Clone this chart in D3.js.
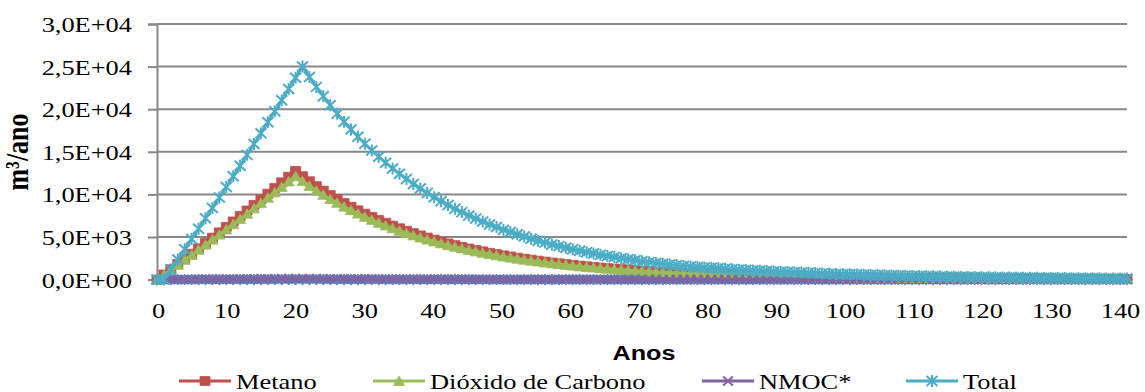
<!DOCTYPE html>
<html>
<head>
<meta charset="utf-8">
<script src="https://cdn.jsdelivr.net/npm/d3@7"></script>
<style>
  body { margin: 0; background: #ffffff; }
  svg { display: block; }
  .serif { font-family: "Liberation Serif", "Times New Roman", Times, "DejaVu Serif", serif; }
  .sans { font-family: "Liberation Sans", Arial, Helvetica, "DejaVu Sans", sans-serif; }
</style>
</head>
<body>
<svg id="chart" width="1145" height="392"></svg>
<script>
// Years since the landfill opened (one point per year)
const anos = d3.range(0, 141);

// Series without a legend entry (flat at zero)
const serieBase = [
  0,0,0,0,0,0,0,0,0,0, 0,0,0,0,0,0,0,0,0,0,
  0,0,0,0,0,0,0,0,0,0, 0,0,0,0,0,0,0,0,0,0,
  0,0,0,0,0,0,0,0,0,0, 0,0,0,0,0,0,0,0,0,0,
  0,0,0,0,0,0,0,0,0,0, 0,0,0,0,0,0,0,0,0,0,
  0,0,0,0,0,0,0,0,0,0, 0,0,0,0,0,0,0,0,0,0,
  0,0,0,0,0,0,0,0,0,0, 0,0,0,0,0,0,0,0,0,0,
  0,0,0,0,0,0,0,0,0,0, 0,0,0,0,0,0,0,0,0,0,
  0
];

// Methane generation, m3/year
const metano = [
  0,600,1210,1820,2430,3040,3670,4290,4920,5540,
  6180,6820,7470,8110,8770,9420,10080,10740,11410,12080,
  12750,12130,11540,10970,10440,9930,9450,8980,8550,8130,
  7730,7360,7000,6660,6330,6020,5730,5450,5180,4930,
  4690,4460,4240,4040,3840,3650,3470,3310,3140,2990,
  2840,2710,2570,2450,2330,2220,2110,2000,1910,1810,
  1730,1640,1560,1490,1410,1340,1280,1220,1160,1100,
  1050,1000,950,900,860,820,790,760,730,700,
  670,650,620,600,570,550,530,510,490,470,
  450,430,420,400,385,370,355,340,330,315,
  300,290,280,270,260,250,240,230,220,210,
  200,195,190,180,175,165,160,155,145,140,
  135,130,125,120,115,110,105,100,100,95,
  90,88,84,80,78,75,70,68,65,62,
  60
];

// Carbon dioxide generation, m3/year
const dioxido = [
  0,570,1150,1730,2320,2900,3500,4090,4690,5280,
  5890,6500,7120,7730,8360,8980,9610,10240,10870,11510,
  12150,11560,11000,10450,9950,9460,9010,8560,8150,7750,
  7370,7010,6670,6350,6030,5740,5460,5190,4940,4700,
  4470,4250,4040,3850,3660,3480,3310,3150,2990,2850,
  2710,2580,2450,2330,2220,2120,2010,1910,1820,1730,
  1650,1560,1490,1420,1340,1280,1220,1160,1110,1050,
  1000,950,910,860,820,780,750,720,700,670,
  640,620,590,570,540,520,505,485,465,450,
  430,410,400,380,365,355,340,325,315,300,
  285,275,265,255,250,240,230,220,210,200,
  190,185,180,170,165,155,150,145,140,135,
  130,125,120,115,110,105,100,95,95,90,
  85,85,80,75,75,70,67,65,62,60,
  57
];

// Non-methane organic compounds, m3/year
const nmoc = [
  0,5,10,15,19,24,29,34,39,44,
  49,55,60,65,70,75,81,86,91,97,
  102,97,92,88,84,79,76,72,68,65,
  62,59,56,53,51,48,46,44,41,39,
  38,36,34,32,31,29,28,26,25,24,
  23,22,21,20,19,18,17,16,15,14,
  14,13,12,12,11,11,10,10,9,9,
  8,8,8,7,7,7,6,6,6,6,
  5,5,5,5,5,4,4,4,4,4,
  4,3,3,3,3,3,3,3,3,2,
  2,2,2,2,2,2,2,2,2,2,
  2,1,1,1,1,1,1,1,1,1,
  1,1,1,1,1,1,1,1,1,1,
  1,1,0,0,0,0,0,0,0,0,
  0
];

// Total landfill gas, m3/year
const total = [
  0,0,1180,2370,3560,4760,5970,7190,8410,9640,
  10870,12120,13370,14640,15910,17190,18470,19760,21060,22370,
  23680,25000,23780,22620,21520,20470,19470,18520,17620,16760,
  15940,15160,14420,13720,13050,12420,11810,11230,10690,10160,
  9670,9200,8750,8320,7920,7530,7160,6810,6480,6170,
  5860,5580,5310,5050,4800,4570,4340,4130,3930,3740,
  3560,3380,3220,3060,2910,2770,2640,2510,2380,2270,
  2160,2050,1950,1860,1770,1680,1610,1550,1490,1430,
  1380,1320,1270,1220,1170,1130,1080,1040,1000,960,
  920,890,850,820,790,760,730,700,670,640,
  620,590,570,550,530,510,490,470,450,430,
  410,400,380,370,350,340,330,310,300,290,
  280,270,260,250,240,230,220,210,200,190,
  190,180,170,160,160,150,150,140,140,130,
  130
];

// Axis ticks and labels
const yTicks = [0, 5000, 10000, 15000, 20000, 25000, 30000];
const yTickLabels = ["0,0E+00", "5,0E+03", "1,0E+04", "1,5E+04", "2,0E+04", "2,5E+04", "3,0E+04"];
const xTicks = [0, 10, 20, 30, 40, 50, 60, 70, 80, 90, 100, 110, 120, 130, 140];
const xTickLabels = ["0", "10", "20", "30", "40", "50", "60", "70", "80", "90", "100", "110", "120", "130", "140"];

const legendNames = ["Metano", "Dióxido de Carbono", "NMOC*", "Total"];

// ---------------------------------------------------------------
const svg = d3.select("#chart");
svg.append("rect").attr("width", 1145).attr("height", 392).attr("fill", "#ffffff");

const x = d3.scaleLinear().domain([0, 140]).range([157, 1127]);
const xLabel = d3.scaleLinear().domain([0, 140]).range([158, 1120]);
const y = d3.scaleLinear().domain([0, 30000]).range([279.6, 24]);

const gridColor = "#878787";
const textStretch = 1.2;   // text is drawn slightly wide

// Horizontal gridlines
svg.append("g")
  .selectAll("line")
  .data(yTicks)
  .join("line")
  .attr("x1", x(0)).attr("x2", x(140))
  .attr("y1", d => y(d)).attr("y2", d => y(d))
  .attr("stroke", gridColor).attr("stroke-width", 2);

// Value axis
const yAxis = svg.append("g")
  .attr("transform", `translate(${x(0)},0)`)
  .call(d3.axisLeft(y).tickValues(yTicks).tickSize(9).tickPadding(16)
        .tickFormat((d, i) => yTickLabels[i]));
yAxis.attr("font-family", null).attr("font-size", null);
yAxis.select(".domain").attr("stroke", gridColor).attr("stroke-width", 2);
yAxis.selectAll(".tick line").attr("stroke", gridColor).attr("stroke-width", 2);
yAxis.selectAll(".tick text")
  .attr("class", "serif").attr("font-size", 22).attr("fill", "#000")
  .attr("x", 0).attr("dy", "0.34em")
  .attr("transform", `translate(-25,0) scale(${textStretch},1)`);

// Category axis (labels placed on their own scale)
const xAxis = svg.append("g")
  .attr("transform", `translate(0,${y(0)})`)
  .call(d3.axisBottom(xLabel).tickValues(xTicks).tickSize(0).tickPadding(22)
        .tickFormat((d, i) => xTickLabels[i]));
xAxis.attr("font-family", null).attr("font-size", null);
xAxis.select(".domain").attr("d", `M${x(0)},0H${x(140)}`)
  .attr("stroke", gridColor).attr("stroke-width", 2);
xAxis.selectAll(".tick text")
  .attr("class", "serif").attr("font-size", 22).attr("fill", "#000")
  .attr("y", 0).attr("dy", 0)
  .attr("transform", `translate(0,38.5) scale(${textStretch},1)`);

// Axis titles
svg.append("text")
  .attr("class", "sans")
  .attr("transform", `translate(644,360) scale(${textStretch},1)`)
  .attr("text-anchor", "middle")
  .attr("font-weight", "bold").attr("font-size", 21)
  .text("Anos");

svg.append("text")
  .attr("class", "serif")
  .attr("transform", `scale(${textStretch},1) translate(${28 / textStretch},152) rotate(-90)`)
  .attr("text-anchor", "middle")
  .attr("font-weight", "bold").attr("font-size", 26)
  .text("m³/ano");

// Marker shapes
function markerPath(kind) {
  switch (kind) {
    case "diamond": return "M0,-5.5L5.5,0L0,5.5L-5.5,0Z";
    case "square": return "M-5,-4.5H5V4.5H-5Z";
    case "triangle": return "M0,-5L5.5,4.5L-5.5,4.5Z";
    case "x": return "M-4.8,-4.5L4.8,4.5M-4.8,4.5L4.8,-4.5";
    case "star": return "M-5.5,-5L5.5,5M-5.5,5L5.5,-5M0,-6V6";
  }
}
const strokeOnly = k => k === "x" || k === "star";

const series = [
  { values: serieBase, color: "#4F81BD", marker: "diamond" },
  { values: metano,    color: "#C0504D", marker: "square" },
  { values: dioxido,   color: "#9BBB59", marker: "triangle" },
  { values: nmoc,      color: "#8064A2", marker: "x" },
  { values: total,     color: "#4BACC6", marker: "star" }
];

const line = d3.line().x((d, i) => x(anos[i])).y(d => y(d));

series.forEach(s => {
  const g = svg.append("g");
  g.append("path")
    .attr("d", line(s.values))
    .attr("fill", "none")
    .attr("stroke", s.color)
    .attr("stroke-width", 2.8)
    .attr("stroke-linejoin", "round");
  g.selectAll("path.m")
    .data(s.values)
    .join("path")
    .attr("class", "m")
    .attr("transform", (d, i) => `translate(${x(anos[i])},${y(d)})`)
    .attr("d", markerPath(s.marker))
    .attr("fill", strokeOnly(s.marker) ? "none" : s.color)
    .attr("stroke", s.color)
    .attr("stroke-width", strokeOnly(s.marker) ? 2 : 0.8);
});

// Legend
const legendItems = [
  { name: legendNames[0], s: series[1], x0: 179 },
  { name: legendNames[1], s: series[2], x0: 373 },
  { name: legendNames[2], s: series[3], x0: 702 },
  { name: legendNames[3], s: series[4], x0: 906 }
];
const legendY = 381;
const lg = svg.append("g");
legendItems.forEach(it => {
  lg.append("line")
    .attr("x1", it.x0).attr("x2", it.x0 + 52)
    .attr("y1", legendY).attr("y2", legendY)
    .attr("stroke", it.s.color).attr("stroke-width", 2.8);
  lg.append("path")
    .attr("transform", `translate(${it.x0 + 26},${legendY})`)
    .attr("d", markerPath(it.s.marker))
    .attr("fill", strokeOnly(it.s.marker) ? "none" : it.s.color)
    .attr("stroke", it.s.color)
    .attr("stroke-width", strokeOnly(it.s.marker) ? 2 : 0.8);
  lg.append("text")
    .attr("class", "serif")
    .attr("transform", `translate(${it.x0 + 57},${legendY + 7.5}) scale(${textStretch},1)`)
    .attr("font-size", 22)
    .text(it.name);
});
</script>
</body>
</html>
